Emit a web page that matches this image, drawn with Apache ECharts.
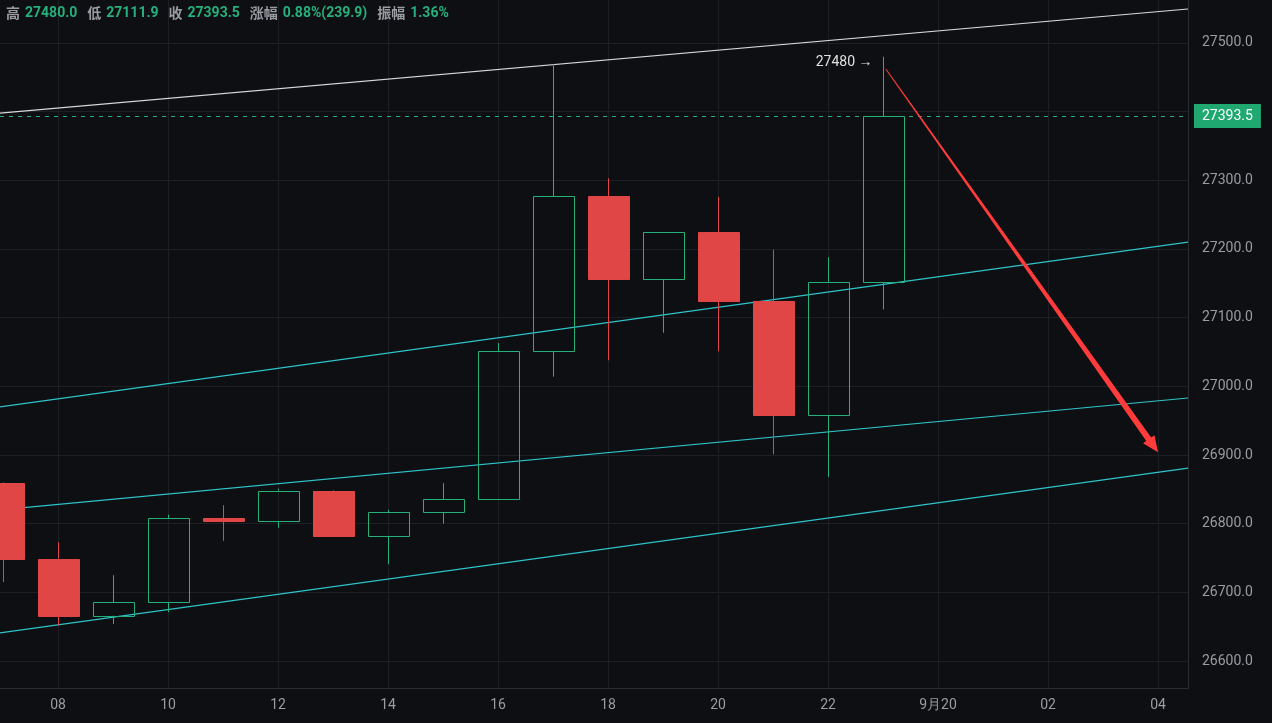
<!DOCTYPE html>
<html><head><meta charset="utf-8">
<script src="https://cdn.jsdelivr.net/npm/echarts@6/dist/echarts.min.js"></script>
<style>html,body{margin:0;padding:0;background:#0e0f12;}#c{width:1272px;height:723px;}</style>
</head><body><div id="c"></div>
<script>
// hour index (24 = 9月20 00:00), open, close, low, high
const hours = [7,8,9,10,11,12,13,14,15,16,17,18,19,20,21,22,23];
const opens = [26859,26749,26666,26686,26808,26804,26848,26782,26817,26836,27051,27277,27156,27225,27124,26958,27152];
const closes= [26749,26666,26686,26808,26804,26848,26782,26817,26836,27051,27277,27156,27225,27124,26958,27152,27393.5];
const lows  = [26715,26652,26654,26671,26775,26794,26781,26741,26800,26835,27014,27038,27078,27051,26901,26868,27111.9];
const highs = [26860,26773,26725,26813,26827,26851,26849,26820,26859,27063,27469,27303,27225,27276,27199,27188,27480];
const xTicks = [8,10,12,14,16,18,20,22,24,26,28];
const yTicks = [26600,26700,26800,26900,27000,27100,27200,27300,27400,27500];
const trendWhite = [[6.945,27398],[28.545,27549.5]];
const trendCyan1 = [[6.945,26970],[28.545,27210]];
const trendCyan2 = [[6.945,26820],[28.545,26983]];
const trendCyan3 = [[6.945,26641],[28.545,26881]];
const arrowPts = [[23.05,27462],[28.0,26904]];
const lastPrice = 27393.5;
const highLabel = '27480 →';
const header = [['高','27480.0'],['低','27111.9'],['收','27393.5'],['涨幅','0.88%(239.9)'],['振幅','1.36%']];

const UP='#26b07c', DOWN='#e04646';
const candleData = hours.map((h,i)=>[h,opens[i],closes[i],lows[i],highs[i]]);
const fmtX = v => { const h=Math.round(v); if(h===24) return '9月20'; return String(h%24).padStart(2,'0'); };

const chart = echarts.init(document.getElementById('c'));
const lineS = (d,color,w)=>({type:'line',data:d,symbol:'none',silent:true,lineStyle:{color:color,width:w},z:3});
chart.setOption({
  backgroundColor:'#0e0f12',
  animation:false,
  title:{left:1,top:-1,text:header.map(p=>'{k|'+p[0]+'} {v|'+p[1]+'}').join('  '),
    textStyle:{rich:{k:{color:'#9a9ca3',fontSize:14,fontFamily:'Noto Sans CJK SC'},v:{color:UP,fontSize:14,fontFamily:'Roboto'}}}},
  grid:{left:0,right:84,top:0,bottom:35,containLabel:false},
  xAxis:{type:'value',min:6.945,max:28.545,
      axisLine:{lineStyle:{color:'#2a2c31'}},
      axisTick:{show:false,customValues:xTicks},
      axisLabel:{customValues:xTicks,color:'#9a9ca3',fontSize:14,fontFamily:'Roboto',margin:10,
        formatter:v=>fmtX(v)},
      splitLine:{show:true,lineStyle:{color:'#1d1f24'}}},
  yAxis:{type:'value',position:'right',min:26560.7,max:27562.6,
      axisLine:{show:true,lineStyle:{color:'#2a2c31'}},
      axisTick:{show:false,customValues:yTicks},
      axisLabel:{customValues:yTicks,color:'#9a9ca3',fontSize:14,fontFamily:'Roboto',margin:14,formatter:v=>v.toFixed(1)},
      splitLine:{show:true,lineStyle:{color:'#1d1f24'}}},
  series:[
    lineS(trendWhite,'#d8d8d8',1.2),
    lineS(trendCyan1,'#2ec4c9',1.2),
    lineS(trendCyan2,'#2ec4c9',1.2),
    lineS(trendCyan3,'#2ec4c9',1.2),
    {type:'custom',data:candleData,z:5,clip:true,
     renderItem:(params,api)=>{
       const h=api.value(0),o=api.value(1),c=api.value(2),l=api.value(3),hi=api.value(4);
       const w=api.size([1,0])[0]*0.74;
       const pO=api.coord([h,o]),pC=api.coord([h,c]),pL=api.coord([h,l]),pH=api.coord([h,hi]);
       const up=c>=o, col=up?UP:DOWN;
       const top=Math.min(pO[1],pC[1]),bot=Math.max(pO[1],pC[1]);
       const x=Math.round(pO[0])+0.5;
       return {type:'group',children:[
         {type:'line',shape:{x1:x,y1:pH[1],x2:x,y2:top},style:{stroke:col,lineWidth:1}},
         {type:'line',shape:{x1:x,y1:bot,x2:x,y2:pL[1]},style:{stroke:col,lineWidth:1}},
         {type:'rect',shape:{x:Math.round(x-w/2)+0.5,y:Math.round(top)+0.5,width:Math.round(w),height:Math.max(1,Math.round(bot-top))},
          style:up?{fill:'transparent',stroke:col,lineWidth:1}:{fill:col,stroke:col,lineWidth:1}}
       ]};
     },
     markLine:{symbol:'none',silent:true,lineStyle:{color:UP,type:[4,5],width:1},
       label:{position:'end',distance:6,formatter:v=>v.value.toFixed(1),color:'#fff',backgroundColor:'#1fa971',
         padding:[5,8,5,8],fontSize:14,fontFamily:'Roboto'},
       data:[{yAxis:lastPrice}]},
     markPoint:{symbol:'circle',symbolSize:1,itemStyle:{color:'transparent'},
       label:{show:true,formatter:highLabel,position:'left',distance:10,color:'#e0e0e0',fontSize:14,fontFamily:'Roboto'},
       data:[{coord:[hours[hours.length-1],27480-8]}]}},
    {type:'custom',data:[[arrowPts[0][0],arrowPts[0][1],arrowPts[1][0],arrowPts[1][1]]],z:6,
     renderItem:(params,api)=>{
       const a=api.coord([api.value(0),api.value(1)]),b=api.coord([api.value(2),api.value(3)]);
       const dx=b[0]-a[0],dy=b[1]-a[1],L=Math.hypot(dx,dy),ux=dx/L,uy=dy/L,nx=-uy,ny=ux;
       const hl=16,hw=7,bx=b[0]-ux*hl,by=b[1]-uy*hl;
       const w0=0.5,w1=3;
       return {type:'polygon',shape:{points:[
         [a[0]+nx*w0,a[1]+ny*w0],[bx+nx*w1,by+ny*w1],[bx+nx*hw,by+ny*hw],b,
         [bx-nx*hw,by-ny*hw],[bx-nx*w1,by-ny*w1],[a[0]-nx*w0,a[1]-ny*w0]]},
         style:{fill:'#ff3b3b'}};
     }}
  ]
});
</script></body></html>
